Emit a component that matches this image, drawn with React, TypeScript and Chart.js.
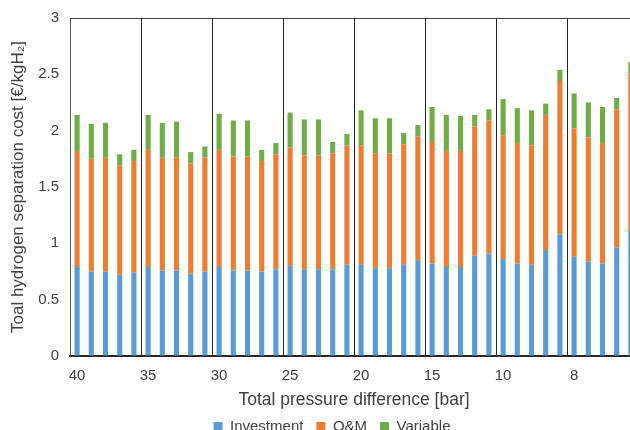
import React, { useEffect, useRef } from "react";
import { Chart, registerables } from "chart.js";

Chart.register(...registerables);

const groupLabels = ["40", "35", "30", "25", "20", "15", "10", "8"];
const barsPerGroup = 5;

const investment = [
  0.79, 0.75, 0.75, 0.72, 0.74,
  0.79, 0.76, 0.76, 0.73, 0.75,
  0.79, 0.76, 0.76, 0.75, 0.77,
  0.80, 0.77, 0.77, 0.77, 0.81,
  0.81, 0.78, 0.78, 0.81, 0.85,
  0.82, 0.79, 0.79, 0.89, 0.91,
  0.86, 0.82, 0.81, 0.94, 1.08,
  0.88, 0.84, 0.82, 0.96, 1.11,
];

const oAndM = [
  1.03, 1.0, 1.01, 0.97, 0.99,
  1.04, 1.0, 1.0, 0.98, 1.01,
  1.04, 1.01, 1.01, 0.98, 1.02,
  1.05, 1.01, 1.01, 1.03, 1.06,
  1.06, 1.02, 1.02, 1.07, 1.1,
  1.08, 1.03, 1.03, 1.15, 1.18,
  1.1, 1.07, 1.06, 1.2, 1.36,
  1.14, 1.1, 1.07, 1.23, 1.4,
];

const variable = [
  0.32, 0.31, 0.31, 0.1, 0.1,
  0.31, 0.31, 0.32, 0.1, 0.1,
  0.32, 0.32, 0.32, 0.1, 0.1,
  0.31, 0.32, 0.32, 0.1, 0.1,
  0.31, 0.31, 0.31, 0.1, 0.1,
  0.31, 0.32, 0.31, 0.1, 0.1,
  0.32, 0.31, 0.31, 0.1, 0.1,
  0.31, 0.31, 0.32, 0.1, 0.1,
];

const categories = groupLabels.flatMap((g) =>
  Array.from({ length: barsPerGroup }, (_, i) => `${g}-${i + 1}`)
);

const FONT = "'Liberation Sans', Arial, sans-serif";
const TEXT = "#404040";

export default function App() {
  const ref = useRef<HTMLCanvasElement | null>(null);

  useEffect(() => {
    if (!ref.current) return;
    const chart = new Chart(ref.current, {
      type: "bar",
      data: {
        labels: categories,
        datasets: [
          { label: "Investment", data: investment, backgroundColor: "#5B9BD5", barPercentage: 0.36, categoryPercentage: 1 },
          { label: "O&M", data: oAndM, backgroundColor: "#ED7D31", barPercentage: 0.36, categoryPercentage: 1 },
          { label: "Variable", data: variable, backgroundColor: "#70AD47", barPercentage: 0.36, categoryPercentage: 1 },
        ],
      },
      options: {
        responsive: false,
        animation: false,
        devicePixelRatio: 1,
        layout: { padding: { top: 1, right: 0, left: 0, bottom: 0 } },
        plugins: {
          tooltip: { enabled: false },
          legend: {
            position: "bottom",
            labels: {
              boxWidth: 9,
              boxHeight: 9,
              padding: 13,
              color: TEXT,
              font: { family: FONT, size: 15 },
            },
          },
        },
        scales: {
          x: {
            stacked: true,
            offset: true,
            grid: {
              display: true,
              drawTicks: false,
              offset: true,
              lineWidth: 1,
              color: (ctx: any) =>
                ctx.index > 0 && ctx.index < categories.length && ctx.index % barsPerGroup === 0
                  ? "#262626"
                  : "rgba(0,0,0,0)",
            },
            border: { display: true, color: "#262626", width: 2 },
            ticks: {
              autoSkip: false,
              maxRotation: 0,
              minRotation: 0,
              padding: 11,
              color: TEXT,
              font: { family: FONT, size: 15 },
              callback: (_v: any, i: number) =>
                i % barsPerGroup === 0 ? groupLabels[i / barsPerGroup] : "",
            },
            title: {
              display: true,
              text: "Total pressure difference [bar]",
              color: TEXT,
              padding: { top: 0, bottom: -5 },
              font: { family: FONT, size: 17.5 },
            },
            afterFit: (s: any) => {
              s.height = 50;
            },
          },
          y: {
            stacked: true,
            min: 0,
            max: 3,
            grid: {
              display: true,
              drawTicks: false,
              color: (ctx: any) => (ctx.tick && ctx.tick.value === 3 ? "#404040" : "rgba(0,0,0,0)"),
            },
            border: { display: true, color: "#595959", width: 1 },
            ticks: {
              stepSize: 0.5,
              padding: 11,
              color: TEXT,
              font: { family: FONT, size: 15 },
              callback: (v: any) => String(Number(v)),
            },
            title: {
              display: true,
              text: "Toal hydrogen separation cost [€/kgH₂]",
              color: TEXT,
              padding: { top: 0, bottom: 0 },
              font: { family: FONT, size: 17 },
            },
            afterFit: (s: any) => {
              s.width = 62;
            },
          },
          yRight: {
            type: "linear",
            position: "right",
            display: true,
            min: 0,
            max: 3,
            grid: { display: false },
            border: { display: false },
            ticks: { display: false },
            afterFit: (s: any) => {
              s.width = 18;
            },
          },
        },
      },
    });
    return () => chart.destroy();
  }, []);

  return (
    <div
      style={{
        position: "fixed",
        left: 8,
        top: 8,
        width: 622,
        height: 422,
        overflow: "hidden",
      }}
    >
      <canvas
        ref={ref}
        width={648}
        height={446}
        style={{ width: 648, height: 446, display: "block", marginTop: -10 }}
      />
    </div>
  );
}
